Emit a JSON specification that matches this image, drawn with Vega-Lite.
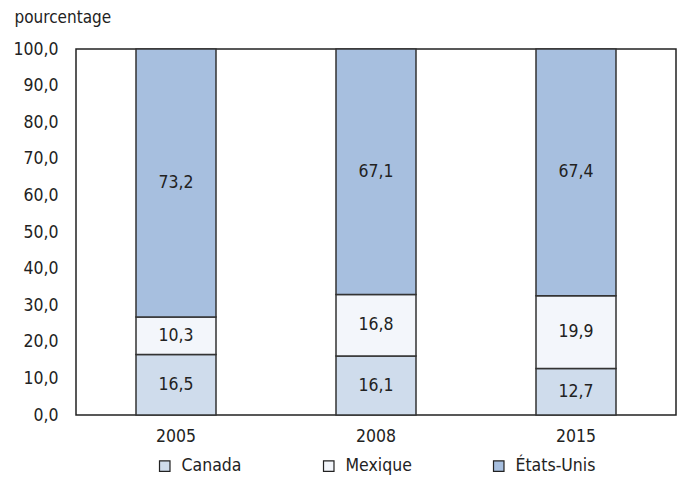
{
  "$schema": "https://vega.github.io/schema/vega-lite/v6.json",
  "width": 600,
  "height": 366,
  "autosize": {"type": "none"},
  "padding": {"left": 76, "top": 49, "right": 2, "bottom": 70},
  "background": "white",
  "config": {
    "locale": {"number": {"decimal": ",", "thousands": " ", "grouping": [3], "currency": ["", " €"]}},
    "view": {"stroke": "#222", "strokeWidth": 1.5},
    "font": "DejaVu Sans Condensed, Roboto, sans-serif",
    "axis": {"domain": false, "grid": false, "ticks": false, "labelOverlap": false, "labelFlush": false, "labelFont": "DejaVu Sans Condensed, Roboto, sans-serif", "labelFontSize": 17.5, "labelColor": "#222"}
  },
  "data": {
    "values": [
      {"annee": "2005", "pays": "Canada", "valeur": 16.5},
      {"annee": "2005", "pays": "Mexique", "valeur": 10.3},
      {"annee": "2005", "pays": "États-Unis", "valeur": 73.2},
      {"annee": "2008", "pays": "Canada", "valeur": 16.1},
      {"annee": "2008", "pays": "Mexique", "valeur": 16.8},
      {"annee": "2008", "pays": "États-Unis", "valeur": 67.1},
      {"annee": "2015", "pays": "Canada", "valeur": 12.7},
      {"annee": "2015", "pays": "Mexique", "valeur": 19.9},
      {"annee": "2015", "pays": "États-Unis", "valeur": 67.4}
    ]
  },
  "transform": [
    {"stack": "valeur", "groupby": ["annee"], "sort": [{"field": "pays", "order": "ascending"}], "as": ["v0", "v1"]},
    {"calculate": "(datum.v0 + datum.v1) / 2", "as": "mid"}
  ],
  "encoding": {
    "x": {
      "field": "annee", "type": "nominal",
      "scale": {"paddingInner": 0.6, "paddingOuter": 0.3},
      "axis": {"title": null, "labelAngle": 0, "labelPadding": 12}
    }
  },
  "layer": [
    {
      "mark": {"type": "bar", "stroke": "#333", "strokeWidth": 1.5},
      "encoding": {
        "y": {
          "field": "v0", "type": "quantitative",
          "scale": {"domain": [0, 100], "nice": false},
          "axis": {
            "values": [0, 10, 20, 30, 40, 50, 60, 70, 80, 90, 100],
            "format": ".1f",
            "labelOverlap": false,
            "labelFlush": false,
            "labelPadding": 18,
            "title": "pourcentage",
            "titleFont": "DejaVu Sans Condensed, Roboto, sans-serif",
            "titleFontSize": 17,
            "titleFontWeight": "normal",
            "titleColor": "#222",
            "titleAngle": 0,
            "titleAlign": "left",
            "titleBaseline": "alphabetic",
            "titleX": -62,
            "titleY": -27
          }
        },
        "y2": {"field": "v1"},
        "color": {
          "field": "pays", "type": "nominal",
          "scale": {"domain": ["Canada", "Mexique", "États-Unis"], "range": ["#cfdcec", "#f3f6fb", "#a7bfdf"]},
          "legend": {
            "title": null,
            "orient": "none",
            "direction": "horizontal",
            "legendX": 80,
            "legendY": 408,
            "symbolType": "square",
            "symbolSize": 110,
            "symbolStrokeColor": "#222",
            "symbolStrokeWidth": 1.2,
            "labelFont": "DejaVu Sans Condensed, Roboto, sans-serif",
            "labelFontSize": 17.5,
            "labelColor": "#222",
            "labelOffset": 8,
            "columnPadding": 78
          }
        }
      }
    },
    {
      "mark": {"type": "text", "font": "DejaVu Sans Condensed, Roboto, sans-serif", "fontSize": 17.5, "color": "#222", "baseline": "middle"},
      "encoding": {
        "y": {
          "field": "mid", "type": "quantitative",
          "scale": {"domain": [0, 100], "nice": false},
          "axis": {
            "values": [0, 10, 20, 30, 40, 50, 60, 70, 80, 90, 100],
            "format": ".1f",
            "labelOverlap": false,
            "labelFlush": false,
            "labelPadding": 18,
            "title": "pourcentage",
            "titleFont": "DejaVu Sans Condensed, Roboto, sans-serif",
            "titleFontSize": 17,
            "titleFontWeight": "normal",
            "titleColor": "#222",
            "titleAngle": 0,
            "titleAlign": "left",
            "titleBaseline": "alphabetic",
            "titleX": -62,
            "titleY": -27
          }
        },
        "text": {"field": "valeur", "type": "quantitative", "format": ".1f"}
      }
    }
  ]
}
